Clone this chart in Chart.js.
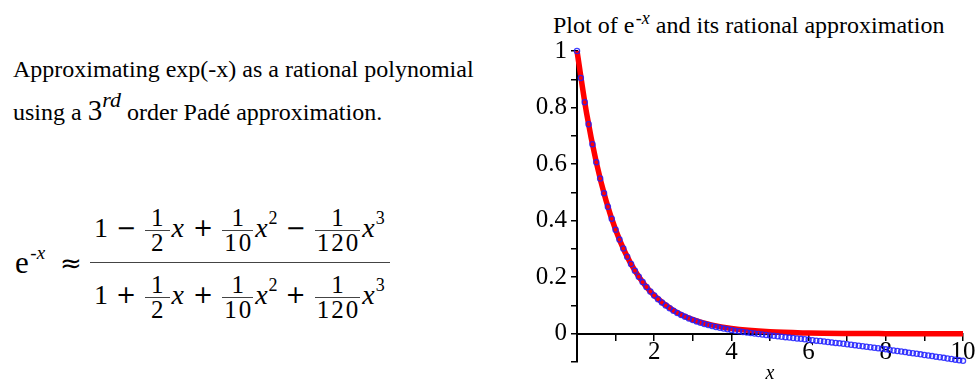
<!DOCTYPE html>
<html>
<head>
<meta charset="utf-8">
<script src="https://cdn.jsdelivr.net/npm/chart.js@4.4.1/dist/chart.umd.min.js"></script>
<style>
  html, body { margin: 0; padding: 0; background: #fff; }
  body { width: 975px; height: 381px; position: relative; overflow: hidden; color: #000; }
  .txt { position: absolute; font-family: "Liberation Serif", serif; font-size: 24px; line-height: 24px; white-space: nowrap; }
  .big3 { font-size: 29px; }
  .sup-rd { font-style: italic; font-size: 22px; position: relative; top: -13px; }
  #title { position: absolute; left: 553px; top: 13px; font-family: "Liberation Serif", serif; font-size: 24px; line-height: 24px; white-space: nowrap; }
  #title sup { font-size: 18px; position: relative; top: -4px; vertical-align: top; line-height: 18px; }
  .m { font-family: "Liberation Serif", serif; position: absolute; white-space: nowrap; }
  .row { display: flex; align-items: center; font-size: 28px; line-height: 28px; }
  .row i { font-style: italic; margin: 0 1px; }
  .op { margin: 0 8px; font-family: "DejaVu Sans", sans-serif; font-size: 24px; }
  .sf { display: inline-flex; flex-direction: column; align-items: center; font-size: 25px; line-height: 22px; position: relative; top: 3px; margin: 0 1px; }
  .sf span { letter-spacing: 2px; padding-left: 2px; }
  .sf span:first-child { border-bottom: 1px solid #444; padding: 0 4px 1px 6px; align-self: stretch; text-align: center; }
  .sf span:last-child { padding-top: 1px; }
  .row sup { font-size: 18px; line-height: 18px; position: relative; top: -10px; font-style: normal; }
  #bar { position: absolute; left: 90px; top: 262px; width: 300px; border-top: 1px solid #444; }
  #wrap { position: absolute; left: 520px; top: 0; width: 455px; height: 381px; }
</style>
</head>
<body>
<div class="txt" style="left:13px; top:57px;">Approximating exp(-x) as a rational polynomial</div>
<div class="txt" style="left:13px; top:98px;">using a <span class="big3">3</span><span class="sup-rd">rd</span> order Padé approximation.</div>

<div class="m" style="left:15px; top:247px; font-size:31px; line-height:31px;">e<span style="font-size:19px; position:relative; top:-14px;">&#8202;-<i>x</i></span></div>
<div class="m" style="left:60px; top:250px; font-size:26px; line-height:26px; font-family:'DejaVu Sans', sans-serif;">≈</div>
<div class="m row" style="left:94px; top:204px;">
  <span>1</span><span class="op">−</span><span class="sf"><span>1</span><span>2</span></span><i>x</i><span class="op">+</span><span class="sf"><span>1</span><span>10</span></span><i>x</i><sup>2</sup><span class="op">−</span><span class="sf"><span>1</span><span>120</span></span><i>x</i><sup>3</sup>
</div>
<div id="bar"></div>
<div class="m row" style="left:94px; top:271px;">
  <span>1</span><span class="op">+</span><span class="sf"><span>1</span><span>2</span></span><i>x</i><span class="op">+</span><span class="sf"><span>1</span><span>10</span></span><i>x</i><sup>2</sup><span class="op">+</span><span class="sf"><span>1</span><span>120</span></span><i>x</i><sup>3</sup>
</div>

<div id="title">Plot of e<sup>&#8202;-<i>x</i></sup> and its rational approximation</div>
<div id="wrap"><canvas id="chart" width="455" height="381"></canvas></div>

<script>
// Padé [3/3] approximation sampled at x = 0, 0.1, ... 10 (blue circles)
const padeX = [
  0, 0.1, 0.2, 0.3, 0.4, 0.5, 0.6, 0.7, 0.8, 0.9,
  1, 1.1, 1.2, 1.3, 1.4, 1.5, 1.6, 1.7, 1.8, 1.9,
  2, 2.1, 2.2, 2.3, 2.4, 2.5, 2.6, 2.7, 2.8, 2.9,
  3, 3.1, 3.2, 3.3, 3.4, 3.5, 3.6, 3.7, 3.8, 3.9,
  4, 4.1, 4.2, 4.3, 4.4, 4.5, 4.6, 4.7, 4.8, 4.9,
  5, 5.1, 5.2, 5.3, 5.4, 5.5, 5.6, 5.7, 5.8, 5.9,
  6, 6.1, 6.2, 6.3, 6.4, 6.5, 6.6, 6.7, 6.8, 6.9,
  7, 7.1, 7.2, 7.3, 7.4, 7.5, 7.6, 7.7, 7.8, 7.9,
  8, 8.1, 8.2, 8.3, 8.4, 8.5, 8.6, 8.7, 8.8, 8.9,
  9, 9.1, 9.2, 9.3, 9.4, 9.5, 9.6, 9.7, 9.8, 9.9,
  10
];
const padeY = [
  1, 0.9048, 0.8187, 0.7408, 0.6703, 0.6065, 0.5488, 0.4966, 0.4493, 0.4066,
  0.3679, 0.3329, 0.3012, 0.2725, 0.2466, 0.2231, 0.2018, 0.1826, 0.1652, 0.1494,
  0.1351, 0.1222, 0.1105, 0.0998, 0.0902, 0.0815, 0.0735, 0.0663, 0.0597, 0.0537,
  0.0483, 0.0433, 0.0387, 0.0345, 0.0307, 0.0272, 0.0239, 0.0209, 0.0181, 0.0154,
  0.0130, 0.0107, 0.0085, 0.0064, 0.0045, 0.0026, 0.0008, -0.0010, -0.0027, -0.0043,
  -0.0059, -0.0075, -0.0091, -0.0106, -0.0121, -0.0137, -0.0152, -0.0167, -0.0182, -0.0197,
  -0.0213, -0.0228, -0.0244, -0.0259, -0.0275, -0.0291, -0.0307, -0.0324, -0.0340, -0.0357,
  -0.0374, -0.0391, -0.0408, -0.0426, -0.0443, -0.0461, -0.0479, -0.0497, -0.0516, -0.0534,
  -0.0553, -0.0572, -0.0591, -0.0611, -0.0630, -0.0650, -0.0669, -0.0689, -0.0709, -0.0729,
  -0.0750, -0.0770, -0.0791, -0.0811, -0.0832, -0.0853, -0.0874, -0.0895, -0.0916, -0.0938,
  -0.0959
];

// exp(-x) (red curve)
const expX = [0, 0.25, 0.5, 0.75, 1, 1.25, 1.5, 1.75, 2, 2.5, 3, 3.5, 4, 5, 6, 7, 8, 9, 10];
const expY = [1, 0.7788, 0.6065, 0.4724, 0.3679, 0.2865, 0.2231, 0.1738, 0.1353, 0.0821,
  0.0498, 0.0302, 0.0183, 0.0067, 0.0025, 0.0009, 0.0003, 0.0001, 0.00005];

const xTickLabels = [2, 4, 6, 8, 10];
const yTickLabels = [0, 0.2, 0.4, 0.6, 0.8, 1];

const serif = 'Liberation Serif';

new Chart(document.getElementById('chart'), {
    type: 'line',
    data: {
        datasets: [{
            label: 'Padé approximation',
            data: padeX.map((x, i) => ({x: x, y: padeY[i]})),
            showLine: false,
            pointStyle: 'circle',
            pointRadius: 2.6,
            pointBorderWidth: 1.3,
            pointBorderColor: 'rgba(30, 30, 255, 0.85)',
            pointBackgroundColor: 'rgba(0, 0, 0, 0)',
            clip: false
        }, {
            label: 'exp(-x)',
            data: expX.map((x, i) => ({x: x, y: expY[i]})),
            borderColor: '#ff0000',
            borderWidth: 5.5,
            pointRadius: 0,
            cubicInterpolationMode: 'monotone',
            fill: false,
            clip: false
        }]
    },
    options: {
        responsive: false,
        animation: false,
        layout: {
            padding: {left: 0, top: 51, right: 12, bottom: 0}
        },
        plugins: {
            legend: {display: false},
            tooltip: {enabled: false}
        },
        scales: {
            x: {
                type: 'linear',
                min: 0,
                max: 10,
                position: {y: 0},
                afterFit: (scale) => { scale.height = 26.5; },
                border: {color: '#000', width: 2},
                grid: {drawOnChartArea: false, tickLength: 6, color: '#000', lineWidth: 1.5},
                ticks: {
                    stepSize: 1,
                    autoSkip: false,
                    maxRotation: 0,
                    padding: -2,
                    color: '#000',
                    font: {family: serif, size: 25},
                    callback: (v) => xTickLabels.includes(v) ? String(v) : ''
                },
                title: {
                    display: true,
                    text: 'x',
                    color: '#000',
                    font: {family: serif, size: 20, style: 'italic'},
                    padding: {top: 0, bottom: -26}
                }
            },
            y: {
                type: 'linear',
                min: -0.1,
                max: 1,
                afterFit: (scale) => { scale.width = 57; },
                border: {color: '#000', width: 2},
                grid: {drawOnChartArea: false, tickLength: 6, color: '#000', lineWidth: 1.5},
                ticks: {
                    stepSize: 0.1,
                    autoSkip: false,
                    padding: 4,
                    color: '#000',
                    font: {family: serif, size: 25},
                    callback: (v) => {
                        const r = Math.round(v * 10) / 10;
                        return yTickLabels.includes(r) ? String(r) : '';
                    }
                }
            }
        }
    }
});
</script>
</body>
</html>
